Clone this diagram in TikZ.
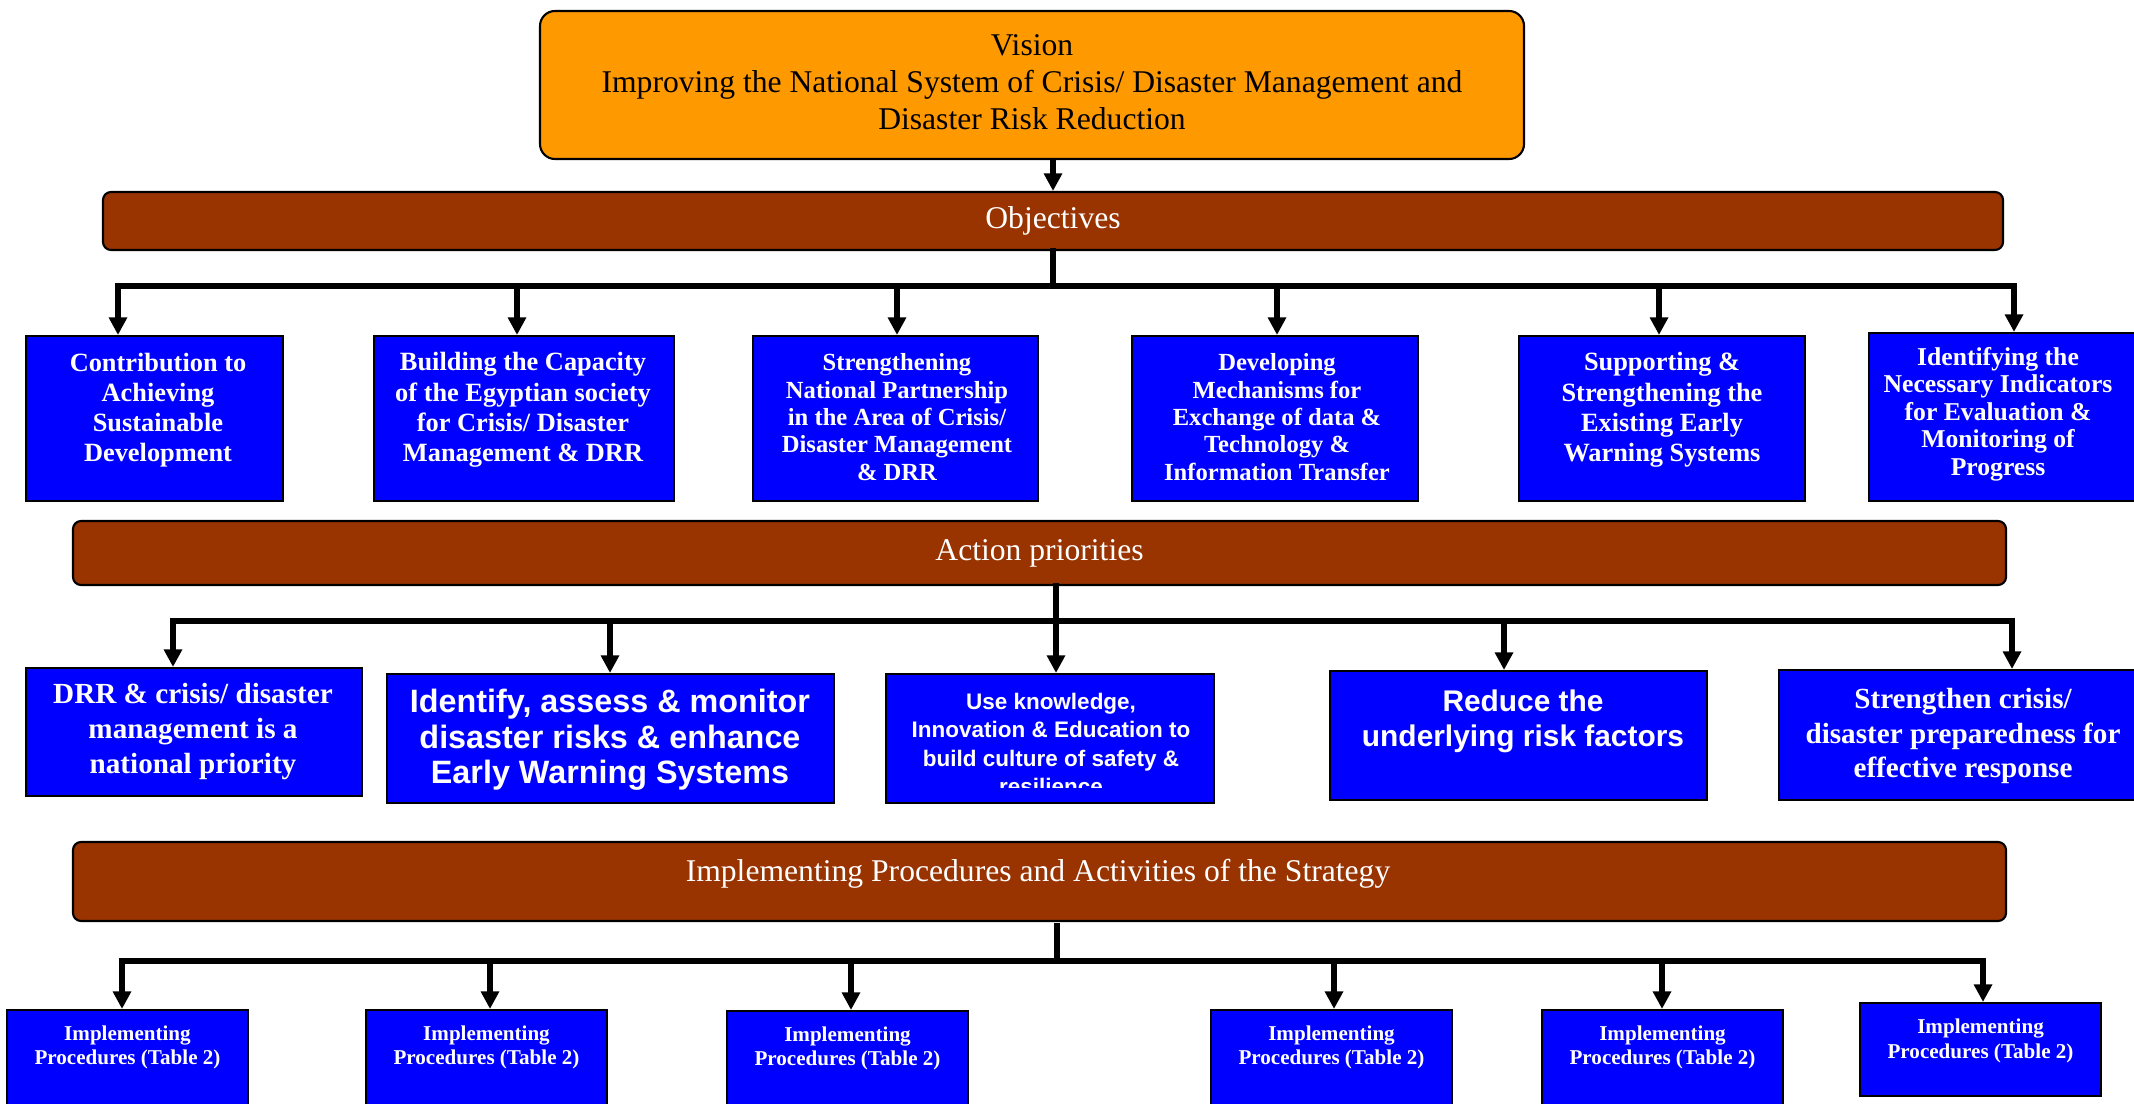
\documentclass[tikz,border=0pt]{standalone}
\usepackage{fontspec}
\setmainfont{Liberation Serif}
\setsansfont{Liberation Sans}
\usepackage{tikz}
\usetikzlibrary{arrows.meta}
\definecolor{visionfill}{HTML}{FF9900}
\definecolor{barbrown}{HTML}{993300}
\definecolor{boxblue}{HTML}{0000FF}

\tikzset{
  bluebox/.style={draw=black, line width=0.6pt, fill=boxblue, inner sep=0pt},
  headbar/.style={draw=black, line width=0.6pt, fill=barbrown, rounded corners=0.08cm, inner sep=0pt},
  bartext/.style={text=white, inner sep=0pt, font=\fontsize{9}{10.5}\selectfont},
  serifbold/.style 2 args={text=white, align=center, inner sep=0pt, font=\bfseries\fontsize{#1}{#2}\selectfont},
  sansbold/.style 2 args={text=white, align=center, inner sep=0pt, font=\sffamily\bfseries\fontsize{#1}{#2}\selectfont},
  bus/.style={line width=1.7pt, line cap=rect},
  feed/.style={line width=1.5pt, ->}
}

\begin{document}
\begin{tikzpicture}[>={Triangle[length=5pt,width=5pt]}]
  \useasboundingbox (0,0) rectangle (21.34,-11.03);
  \clip (0,0) rectangle (21.34,-11.03);

  \node[draw=black, line width=0.6pt, fill=visionfill, rounded corners=0.15cm, minimum width=9.84cm, minimum height=1.48cm] (vision) at (10.32,-0.85) {};
  \node[align=center, inner sep=0pt, font=\fontsize{9}{10.5}\selectfont] (visiontext) at (10.32,-0.82) {Vision\\Improving the National System of Crisis/ Disaster Management and\\Disaster Risk Reduction};

  \node[headbar, minimum width=19cm, minimum height=0.58cm] (obj) at (10.53,-2.21) {};
  \node[bartext] (objtext) at (obj) {Objectives};
  \draw[feed] (vision.south -| obj) -- (obj.north);

  \node[bluebox, minimum width=2.57cm, minimum height=1.65cm] (o1) at (1.545,-4.185) {};
  \node[bluebox, minimum width=3.00cm, minimum height=1.65cm] (o2) at (5.24,-4.185) {};
  \node[bluebox, minimum width=2.85cm, minimum height=1.65cm] (o3) at (8.955,-4.185) {};
  \node[bluebox, minimum width=2.86cm, minimum height=1.65cm] (o4) at (12.75,-4.185) {};
  \node[bluebox, minimum width=2.86cm, minimum height=1.65cm] (o5) at (16.62,-4.185) {};
  \node[bluebox, minimum width=2.70cm, minimum height=1.68cm] (o6) at (20.04,-4.17) {};
  \node[serifbold={7.5}{8.6}] (o1t) at (1.58,-4.10) {Contribution to\\Achieving\\Sustainable\\Development};
  \node[serifbold={7.5}{8.6}] (o2t) at (5.23,-4.10) {Building the Capacity\\of the Egyptian society\\for Crisis/ Disaster\\Management \& DRR};
  \node[serifbold={7}{7.8}] (o3t) at (8.97,-4.17) {Strengthening\\National Partnership\\in the Area of Crisis/\\Disaster Management\\\& DRR};
  \node[serifbold={7}{7.8}] (o4t) at (12.77,-4.17) {Developing\\Mechanisms for\\Exchange of data \&\\Technology \&\\Information Transfer};
  \node[serifbold={7.5}{8.6}] (o5t) at (16.62,-4.10) {Supporting \&\\Strengthening the\\Existing Early\\Warning Systems};
  \node[serifbold={7.3}{7.8}] (o6t) at (19.98,-4.14) {Identifying the\\Necessary Indicators\\for Evaluation \&\\Monitoring of\\Progress};

  \coordinate (ob1) at (1.18,-2.86);
  \coordinate (ob2) at (5.17,-2.86);
  \coordinate (ob3) at (8.97,-2.86);
  \coordinate (ob4) at (12.77,-2.86);
  \coordinate (ob5) at (16.59,-2.86);
  \coordinate (ob6) at (20.14,-2.86);
  \draw[bus] (obj.south) -- (obj.south |- ob1);
  \draw[bus] (ob1) -- (ob6);
  \draw[feed] (ob1) -- (ob1 |- o1.north);
  \draw[feed] (ob2) -- (ob2 |- o2.north);
  \draw[feed] (ob3) -- (ob3 |- o3.north);
  \draw[feed] (ob4) -- (ob4 |- o4.north);
  \draw[feed] (ob5) -- (ob5 |- o5.north);
  \draw[feed] (ob6) -- (ob6 |- o6.north);

  \node[headbar, minimum width=19.33cm, minimum height=0.64cm] (act) at (10.395,-5.53) {};
  \node[bartext] (acttext) at (act) {Action priorities};

  \node[bluebox, minimum width=3.36cm, minimum height=1.28cm] (a1) at (1.94,-7.32) {};
  \node[bluebox, minimum width=4.47cm, minimum height=1.29cm] (a2) at (6.105,-7.385) {};
  \node[bluebox, minimum width=3.28cm, minimum height=1.29cm] (a3) at (10.50,-7.385) {};
  \node[bluebox, minimum width=3.77cm, minimum height=1.29cm] (a4) at (15.185,-7.355) {};
  \node[bluebox, minimum width=3.68cm, minimum height=1.30cm] (a5) at (19.63,-7.35) {};
  \node[serifbold={8.3}{9.9}] (a1t) at (1.93,-7.315) {DRR \& crisis/ disaster\\management is a\\national priority};
  \node[sansbold={9.2}{10.1}] (a2t) at (6.10,-7.40) {Identify, assess \& monitor\\disaster risks \& enhance\\Early Warning Systems};
  \begin{scope}
    \clip (a3.north west) rectangle ([yshift=1.7mm]a3.south east);
    \node[sansbold={6.4}{8.1}] (a3t) at (10.51,-7.44) {Use knowledge,\\Innovation \& Education to\\build culture of safety \&\\resilience};
  \end{scope}
  \node[sansbold={8.5}{10}] (a4t) at (15.23,-7.21) {Reduce the\\underlying risk factors};
  \node[serifbold={8.3}{9.7}] (a5t) at (19.63,-7.36) {Strengthen crisis/\\disaster preparedness for\\effective response};

  \coordinate (ab1) at (1.73,-6.21);
  \coordinate (ab2) at (6.10,-6.21);
  \coordinate (ab3) at (10.56,-6.21);
  \coordinate (ab4) at (15.04,-6.21);
  \coordinate (ab5) at (20.12,-6.21);
  \draw[bus] (ab3 |- act.south) -- (ab3);
  \draw[bus] (ab1) -- (ab5);
  \draw[feed] (ab1) -- (ab1 |- a1.north);
  \draw[feed] (ab2) -- (ab2 |- a2.north);
  \draw[feed] (ab3) -- (ab3 |- a3.north);
  \draw[feed] (ab4) -- (ab4 |- a4.north);
  \draw[feed] (ab5) -- (ab5 |- a5.north);

  \node[headbar, minimum width=19.33cm, minimum height=0.79cm] (imp) at (10.395,-8.815) {};
  \node[bartext] (imptext) at (10.38,-8.74) {Implementing Procedures and Activities of the Strategy};

  \node[bluebox, minimum width=2.41cm, minimum height=1cm] (i1) at (1.275,-10.60) {};
  \node[bluebox, minimum width=2.41cm, minimum height=1cm] (i2) at (4.865,-10.60) {};
  \node[bluebox, minimum width=2.41cm, minimum height=1cm] (i3) at (8.475,-10.61) {};
  \node[bluebox, minimum width=2.41cm, minimum height=1cm] (i4) at (13.315,-10.60) {};
  \node[bluebox, minimum width=2.41cm, minimum height=1cm] (i5) at (16.625,-10.60) {};
  \node[bluebox, minimum width=2.41cm, minimum height=0.93cm] (i6) at (19.805,-10.495) {};
  \node[serifbold={6}{7}] (i1t) at (1.275,-10.475) {Implementing\\Procedures (Table 2)};
  \node[serifbold={6}{7}] (i2t) at (4.865,-10.475) {Implementing\\Procedures (Table 2)};
  \node[serifbold={6}{7}] (i3t) at (8.475,-10.485) {Implementing\\Procedures (Table 2)};
  \node[serifbold={6}{7}] (i4t) at (13.315,-10.475) {Implementing\\Procedures (Table 2)};
  \node[serifbold={6}{7}] (i5t) at (16.625,-10.475) {Implementing\\Procedures (Table 2)};
  \node[serifbold={6}{7}] (i6t) at (19.805,-10.41) {Implementing\\Procedures (Table 2)};

  \coordinate (ib0) at (10.57,-9.61);
  \coordinate (ib1) at (1.22,-9.61);
  \coordinate (ib2) at (4.90,-9.61);
  \coordinate (ib3) at (8.51,-9.61);
  \coordinate (ib4) at (13.34,-9.61);
  \coordinate (ib5) at (16.62,-9.61);
  \coordinate (ib6) at (19.83,-9.61);
  \draw[bus] ([yshift=-0.4mm]ib0 |- imp.south) -- (ib0);
  \draw[bus] (ib1) -- (ib6);
  \draw[feed] (ib1) -- (ib1 |- i1.north);
  \draw[feed] (ib2) -- (ib2 |- i2.north);
  \draw[feed] (ib3) -- (ib3 |- i3.north);
  \draw[feed] (ib4) -- (ib4 |- i4.north);
  \draw[feed] (ib5) -- (ib5 |- i5.north);
  \draw[feed] (ib6) -- (ib6 |- i6.north);
\end{tikzpicture}
\end{document}
